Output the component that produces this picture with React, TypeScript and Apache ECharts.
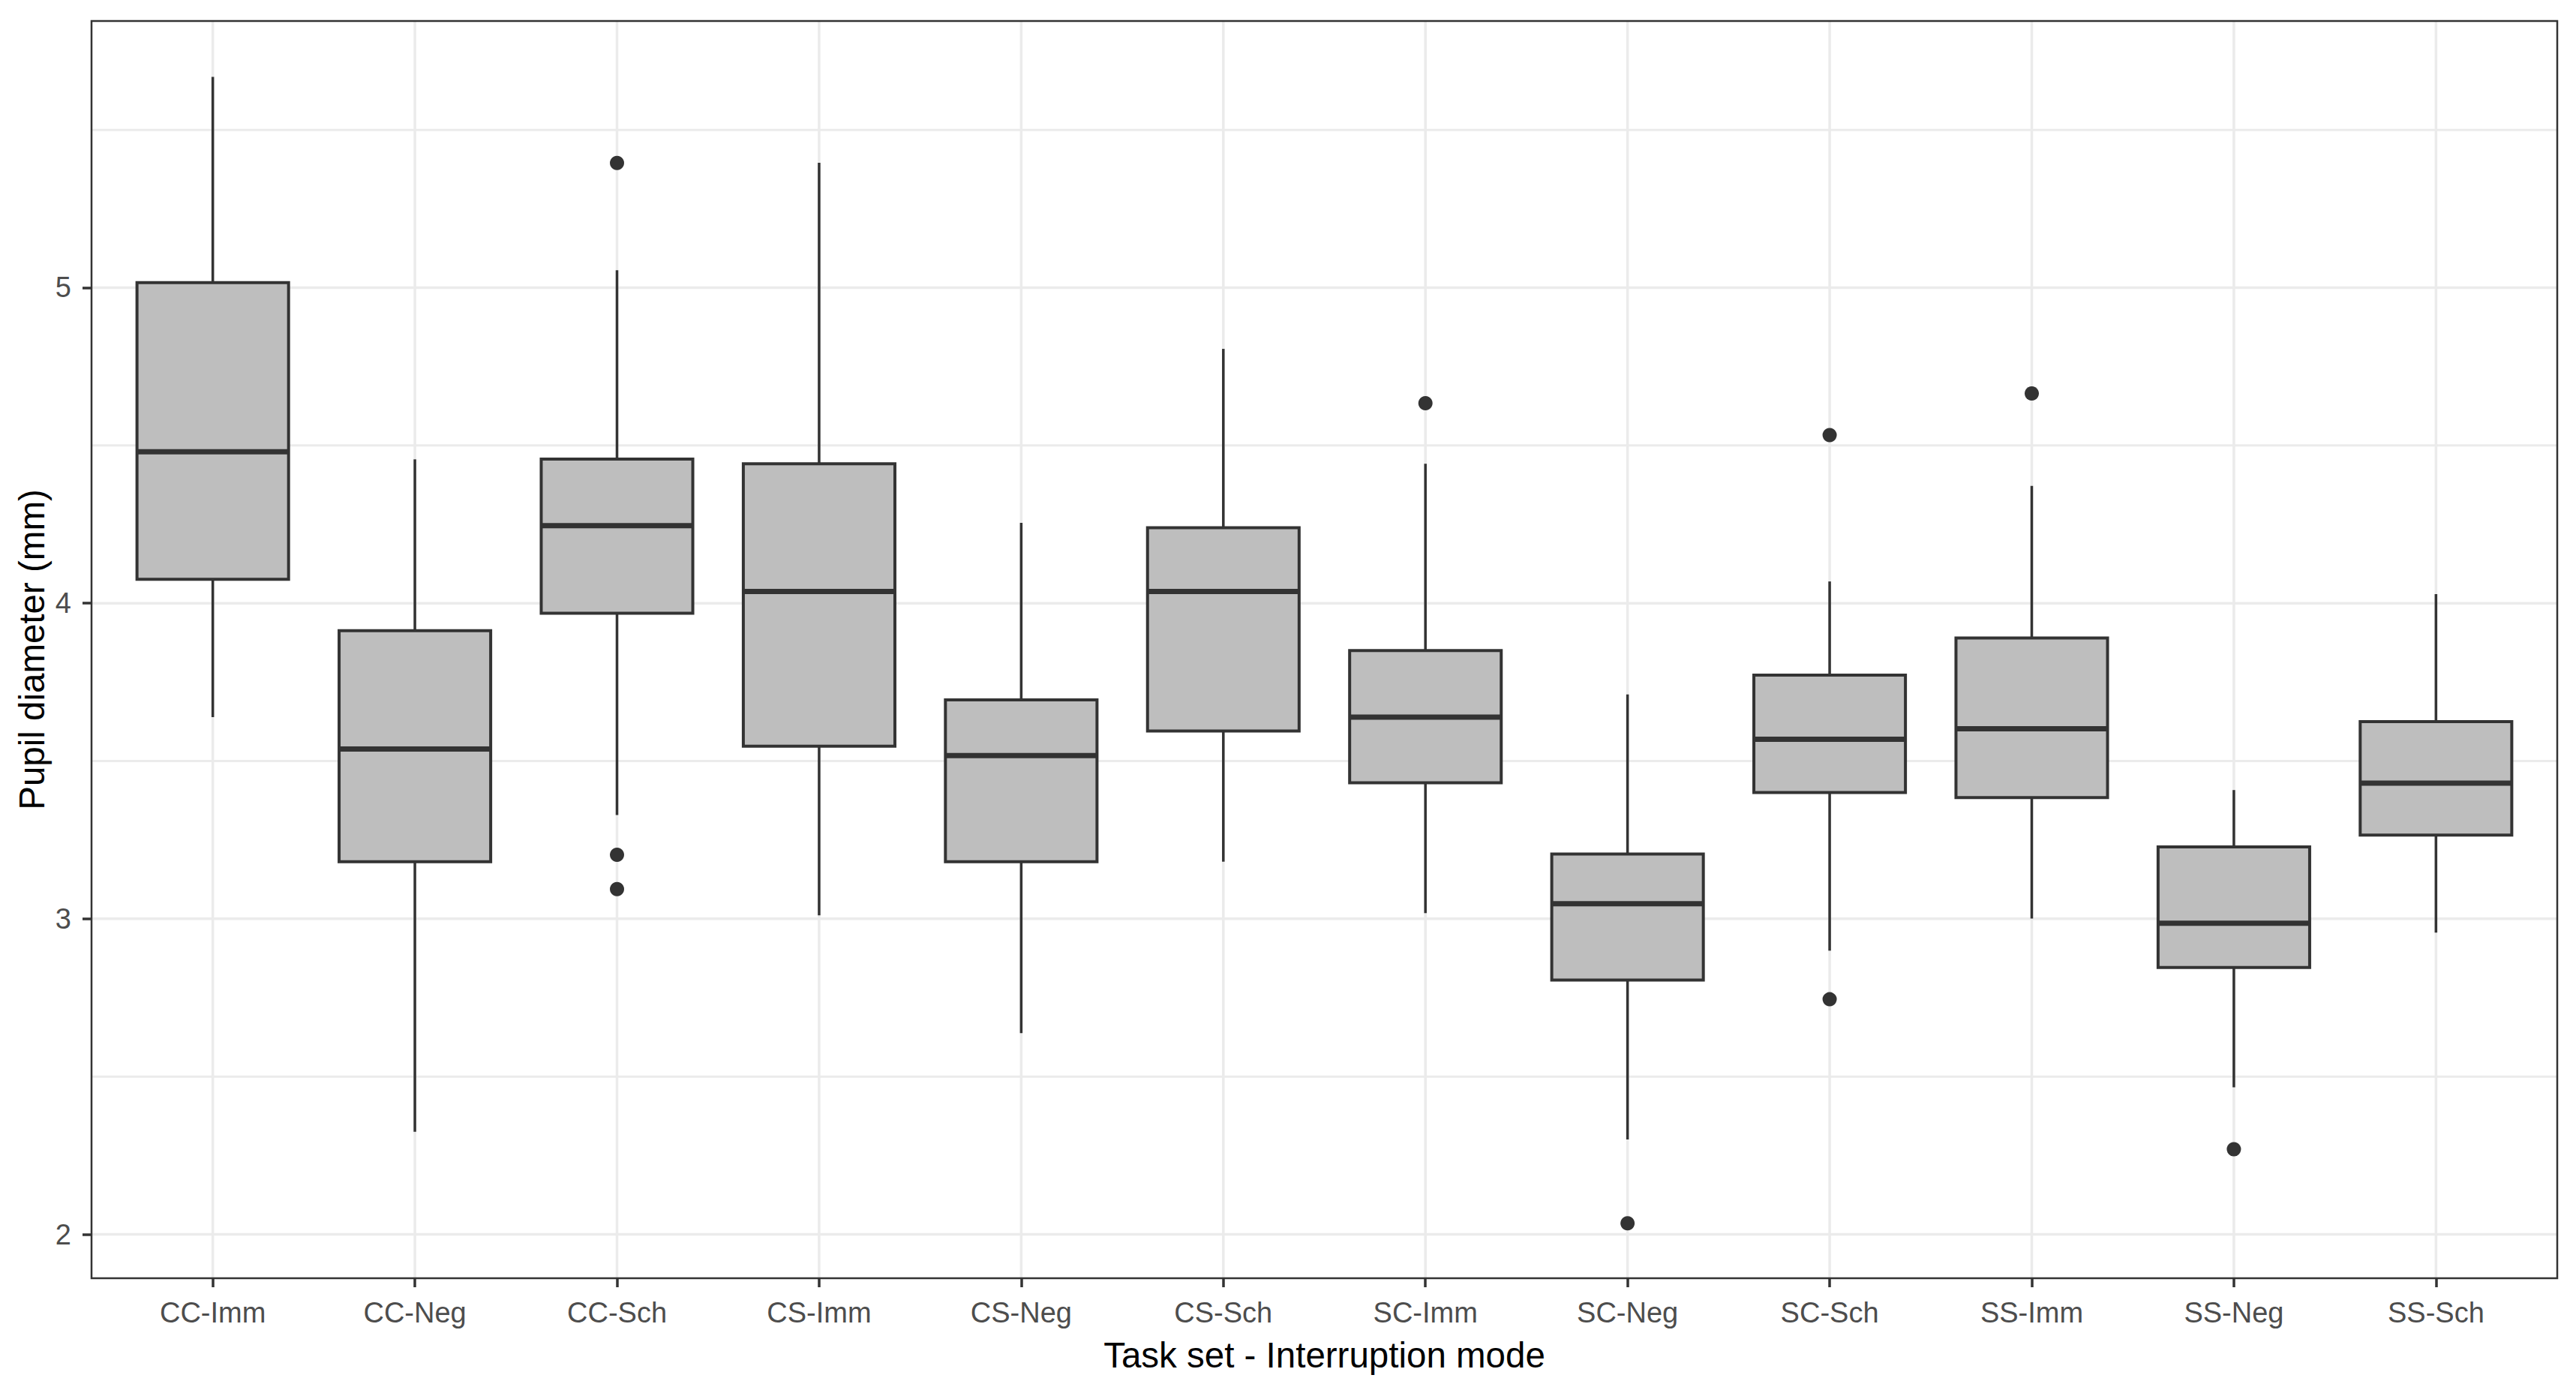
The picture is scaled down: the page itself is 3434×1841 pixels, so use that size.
import React, { useEffect, useRef } from "react";
import * as echarts from "echarts";

const categories = [
  "CC-Imm", "CC-Neg", "CC-Sch", "CS-Imm", "CS-Neg", "CS-Sch",
  "SC-Imm", "SC-Neg", "SC-Sch", "SS-Imm", "SS-Neg", "SS-Sch",
];
const lowerWhisker = [3.639, 2.325, 3.329, 3.011, 2.638, 3.181, 3.018, 2.301, 2.899, 3.001, 2.466, 2.956];
const q1Values = [4.076, 3.181, 3.968, 3.547, 3.181, 3.595, 3.431, 2.806, 3.4, 3.384, 2.846, 3.265];
const medianValues = [4.48, 3.538, 4.246, 4.037, 3.517, 4.037, 3.639, 3.048, 3.569, 3.602, 2.986, 3.43];
const q3Values = [5.016, 3.913, 4.457, 4.442, 3.694, 4.239, 3.85, 3.205, 3.772, 3.89, 3.228, 3.625];
const upperWhisker = [5.668, 4.456, 5.055, 5.396, 4.255, 4.806, 4.442, 3.711, 4.069, 4.372, 3.408, 4.029];
const outlierCategories = ["CC-Sch", "CC-Sch", "CC-Sch", "SC-Imm", "SC-Neg", "SC-Sch", "SC-Sch", "SS-Imm", "SS-Neg"];
const outlierValues = [5.395, 3.203, 3.094, 4.634, 2.035, 4.533, 2.745, 4.665, 2.27];
const yTicks = [2, 3, 4, 5];
const yMinorTicks = [2.5, 3.5, 4.5, 5.5];
const xTicks = categories.map((_, i) => i + 1);

const FONT = "'Liberation Sans', Arial, Helvetica, sans-serif";
const DARK = "#333333";
const GRID = "#EBEBEB";

export default function App() {
  const ref = useRef<HTMLDivElement>(null);

  useEffect(() => {
    document.body.style.margin = "0";
    if (!ref.current) return;
    const chart = echarts.init(ref.current, undefined, { renderer: "svg" });

    const boxData = categories.map((_, i) => [
      i + 1,
      lowerWhisker[i],
      q1Values[i],
      medianValues[i],
      q3Values[i],
      upperWhisker[i],
    ]);
    const outlierData = outlierCategories.map((c, i) => [categories.indexOf(c) + 1, outlierValues[i]]);
    const hGridData = [
      ...yTicks.map((v) => [1, v, 1]),
      ...yMinorTicks.map((v) => [1, v, 0]),
    ];
    const vGridData = xTicks.map((v) => [v, 3, 1]);

    const option: any = {
      animation: false,
      backgroundColor: "#ffffff",
      grid: {
        left: 122,
        top: 28,
        right: 25,
        bottom: 137,
        show: true,
        borderColor: DARK,
        borderWidth: 2.5,
        backgroundColor: "transparent",
        z: 10,
      },
      xAxis: {
        type: "value",
        min: 0.4,
        max: 12.6,
        axisLine: { show: false },
        splitLine: { show: false },
        axisTick: {
          show: true,
          customValues: xTicks,
          length: 12,
          lineStyle: { color: DARK, width: 3.5 },
        },
        axisLabel: {
          customValues: xTicks,
          formatter: (v: number) => categories[Math.round(v) - 1] ?? "",
          margin: 46,
          verticalAlign: "middle",
          fontSize: 38,
          color: "#4D4D4D",
          fontFamily: FONT,
        },
      },
      yAxis: {
        type: "value",
        min: 1.861,
        max: 5.845,
        axisLine: { show: false },
        splitLine: { show: false },
        axisTick: {
          show: true,
          customValues: yTicks,
          length: 12,
          lineStyle: { color: DARK, width: 3.5 },
        },
        axisLabel: {
          customValues: yTicks,
          margin: 27,
          fontSize: 38,
          color: "#4D4D4D",
          fontFamily: FONT,
        },
      },
      graphic: [
        {
          type: "text",
          x: 1765.5,
          y: 1806,
          style: {
            text: "Task set - Interruption mode",
            fontSize: 47.5,
            fontFamily: FONT,
            fill: "#000000",
            align: "center",
            verticalAlign: "middle",
          },
        },
        {
          type: "text",
          x: 42,
          y: 866,
          rotation: Math.PI / 2,
          style: {
            text: "Pupil diameter (mm)",
            fontSize: 47.5,
            fontFamily: FONT,
            fill: "#000000",
            align: "center",
            verticalAlign: "middle",
          },
        },
      ],
      series: [
        {
          type: "custom",
          name: "hgrid",
          z: 1,
          silent: true,
          data: hGridData,
          encode: { x: 0, y: 1 },
          renderItem: (params: any, api: any) => {
            const cs = params.coordSys;
            const y = api.coord([1, api.value(1)])[1];
            return {
              type: "line",
              shape: { x1: cs.x, y1: y, x2: cs.x + cs.width, y2: y },
              style: { stroke: GRID, lineWidth: api.value(2) ? 3.5 : 3 },
            };
          },
        },
        {
          type: "custom",
          name: "vgrid",
          z: 1,
          silent: true,
          data: vGridData,
          encode: { x: 0, y: 1 },
          renderItem: (params: any, api: any) => {
            const cs = params.coordSys;
            const x = api.coord([api.value(0), 3])[0];
            return {
              type: "line",
              shape: { x1: x, y1: cs.y, x2: x, y2: cs.y + cs.height },
              style: { stroke: GRID, lineWidth: 3.5 },
            };
          },
        },
        {
          type: "custom",
          name: "boxes",
          z: 3,
          data: boxData,
          encode: { x: 0, y: [1, 2, 3, 4, 5] },
          renderItem: (_params: any, api: any) => {
            const x = api.value(0);
            const lo = api.coord([x, api.value(1)]);
            const b1 = api.coord([x, api.value(2)]);
            const md = api.coord([x, api.value(3)]);
            const b3 = api.coord([x, api.value(4)]);
            const hi = api.coord([x, api.value(5)]);
            const hw = api.size([0.75, 0])[0] / 2;
            const cx = lo[0];
            return {
              type: "group",
              children: [
                {
                  type: "line",
                  shape: { x1: cx, y1: hi[1], x2: cx, y2: b3[1] },
                  style: { stroke: DARK, lineWidth: 3.5 },
                },
                {
                  type: "line",
                  shape: { x1: cx, y1: b1[1], x2: cx, y2: lo[1] },
                  style: { stroke: DARK, lineWidth: 3.5 },
                },
                {
                  type: "rect",
                  shape: { x: cx - hw, y: b3[1], width: hw * 2, height: b1[1] - b3[1] },
                  style: { fill: "#BEBEBE", stroke: DARK, lineWidth: 4 },
                },
                {
                  type: "line",
                  shape: { x1: cx - hw, y1: md[1], x2: cx + hw, y2: md[1] },
                  style: { stroke: DARK, lineWidth: 7 },
                },
              ],
            };
          },
        },
        {
          type: "scatter",
          name: "outliers",
          z: 4,
          data: outlierData,
          symbol: "circle",
          symbolSize: 19,
          itemStyle: { color: DARK, opacity: 1 },
        },
      ],
    };

    chart.setOption(option);
    return () => chart.dispose();
  }, []);

  return <div ref={ref} style={{ width: 3434, height: 1841 }} />;
}
